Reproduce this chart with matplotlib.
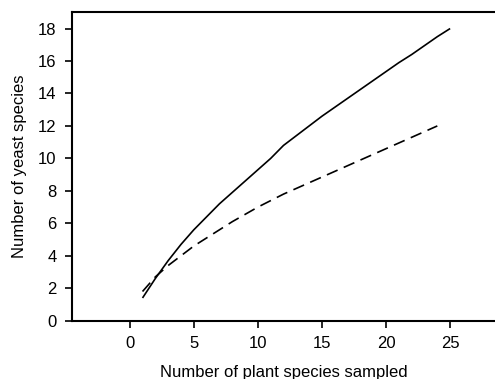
import matplotlib
matplotlib.use("Agg")
import matplotlib.pyplot as plt

plt.rcParams['font.family'] = ['Liberation Sans', 'DejaVu Sans']

plants_solid = [1, 2, 3, 4, 5, 6, 7, 8, 9, 10, 11, 12, 13, 14, 15, 16, 17, 18, 19, 20, 21, 22, 23, 24, 25]
yeast_solid = [1.4, 2.6, 3.7, 4.7, 5.6, 6.4, 7.2, 7.9, 8.6, 9.3, 10.0, 10.8, 11.4, 12.0, 12.6, 13.15, 13.7, 14.25, 14.8, 15.35, 15.9, 16.4, 16.95, 17.5, 18.0]
plants_dashed = [1, 2, 3, 4, 5, 6, 7, 8, 9, 10, 11, 12, 13, 14, 15, 16, 17, 18, 19, 20, 21, 22, 23, 24]
yeast_dashed = [1.8, 2.7, 3.4, 4.0, 4.6, 5.1, 5.6, 6.1, 6.55, 7.0, 7.4, 7.8, 8.15, 8.5, 8.85, 9.2, 9.55, 9.9, 10.25, 10.6, 10.95, 11.3, 11.65, 12.0]
x_ticks = [0, 5, 10, 15, 20, 25]
y_ticks = [0, 2, 4, 6, 8, 10, 12, 14, 16, 18]

fig = plt.figure(figsize=(4.95, 3.79), dpi=100)
ax = fig.add_axes([0.1455, 0.1538, 0.8545, 0.8137])
ax.plot(plants_solid, yeast_solid, color='black', lw=1.2, solid_capstyle='butt')
ax.plot(plants_dashed, yeast_dashed, color='black', lw=1.2, dashes=(7, 4))
ax.set_xlim(-4.5, 28.5)
ax.set_ylim(0, 19)
ax.set_xticks(x_ticks)
ax.set_yticks(y_ticks)
ax.spines['right'].set_visible(False)
for s in ['left', 'bottom', 'top']:
    ax.spines[s].set_linewidth(1.5)
ax.tick_params(direction='out', length=5, width=1.2, labelsize=12, pad=6)
ax.set_xlabel('Number of plant species sampled', fontsize=12, labelpad=10)
ax.set_ylabel('Number of yeast species', fontsize=12, labelpad=8)
fig.savefig('out.png', dpi=100)
